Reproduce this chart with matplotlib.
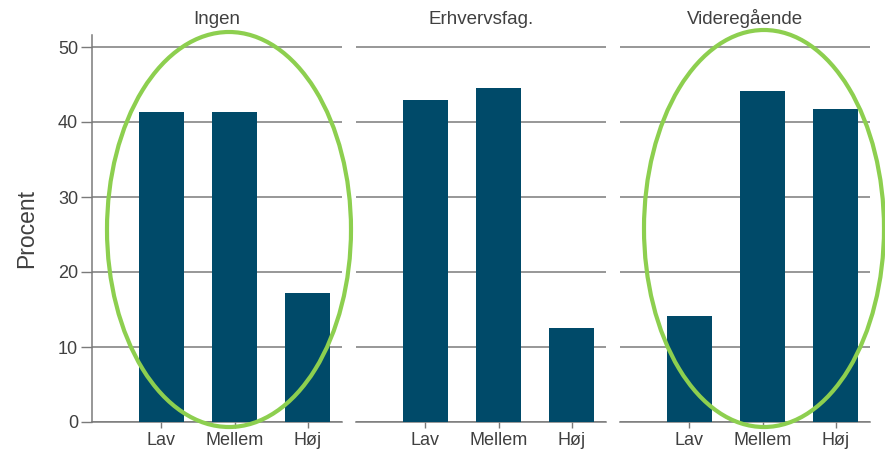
import matplotlib.pyplot as plt
from matplotlib.patches import Ellipse

plt.rcParams['font.family'] = ['Liberation Sans', 'DejaVu Sans']

# Data
PANELS = ["Ingen", "Erhvervsfag.", "Videregående"]
CATEGORIES = ["Lav", "Mellem", "Høj"]
ingen = [41.4, 41.4, 17.2]
erhvervsfag = [42.9, 44.5, 12.6]
videregaaende = [14.1, 44.2, 41.8]
YTICKS = [0, 10, 20, 30, 40, 50]

BAR_COLOR = '#004A69'
GRID_COLOR = '#7a7a7a'
TEXT_COLOR = '#404040'
GREEN = '#8DCF4F'

fig = plt.figure(figsize=(8.85, 4.5), dpi=100)

lefts = [92, 356, 620]
ax_w = 250 / 885
ax_b = 28 / 450
ax_h = 387 / 450

for i, (title, values) in enumerate(zip(PANELS, [ingen, erhvervsfag, videregaaende])):
    ax = fig.add_axes([lefts[i] / 885, ax_b, ax_w, ax_h])
    x = [1, 2, 3]
    ax.bar(x, values, width=0.62, color=BAR_COLOR, zorder=3)
    ax.set_xlim(0.05, 3.47)
    ax.set_ylim(0, 51.6)
    ax.set_yticks(YTICKS)
    ax.yaxis.grid(True, color=GRID_COLOR, linewidth=1.1, zorder=1)
    ax.set_axisbelow(True)
    ax.set_xticks(x)
    ax.set_xticklabels(CATEGORIES)
    ax.tick_params(axis='x', length=4, width=1, color=GRID_COLOR, labelsize=13,
                   labelcolor=TEXT_COLOR, pad=3)
    for side in ['top', 'right']:
        ax.spines[side].set_visible(False)
    ax.spines['bottom'].set_color(GRID_COLOR)
    ax.spines['bottom'].set_linewidth(1.1)
    if i == 0:
        ax.spines['left'].set_color(GRID_COLOR)
        ax.spines['left'].set_linewidth(1.1)
        ax.tick_params(axis='y', length=8, width=1, color=GRID_COLOR, labelsize=13,
                       labelcolor=TEXT_COLOR, pad=2)
        ax.set_ylabel("Procent", fontsize=16.5, color=TEXT_COLOR, labelpad=14)
    else:
        ax.spines['left'].set_visible(False)
        ax.tick_params(axis='y', left=False, labelleft=False)
    ax.set_title(title, fontsize=13.5, color=TEXT_COLOR, pad=8)

# Green highlight ellipses (figure pixel positions)
for cx, cy, w, h in [(229, 229.5, 244, 395), (764, 228.5, 240, 397)]:
    fig.add_artist(Ellipse((cx / 885, 1 - cy / 450), w / 885, h / 450,
                           transform=fig.transFigure, fill=False,
                           edgecolor=GREEN, linewidth=3, zorder=10))

fig.savefig("out.png", dpi=100)
